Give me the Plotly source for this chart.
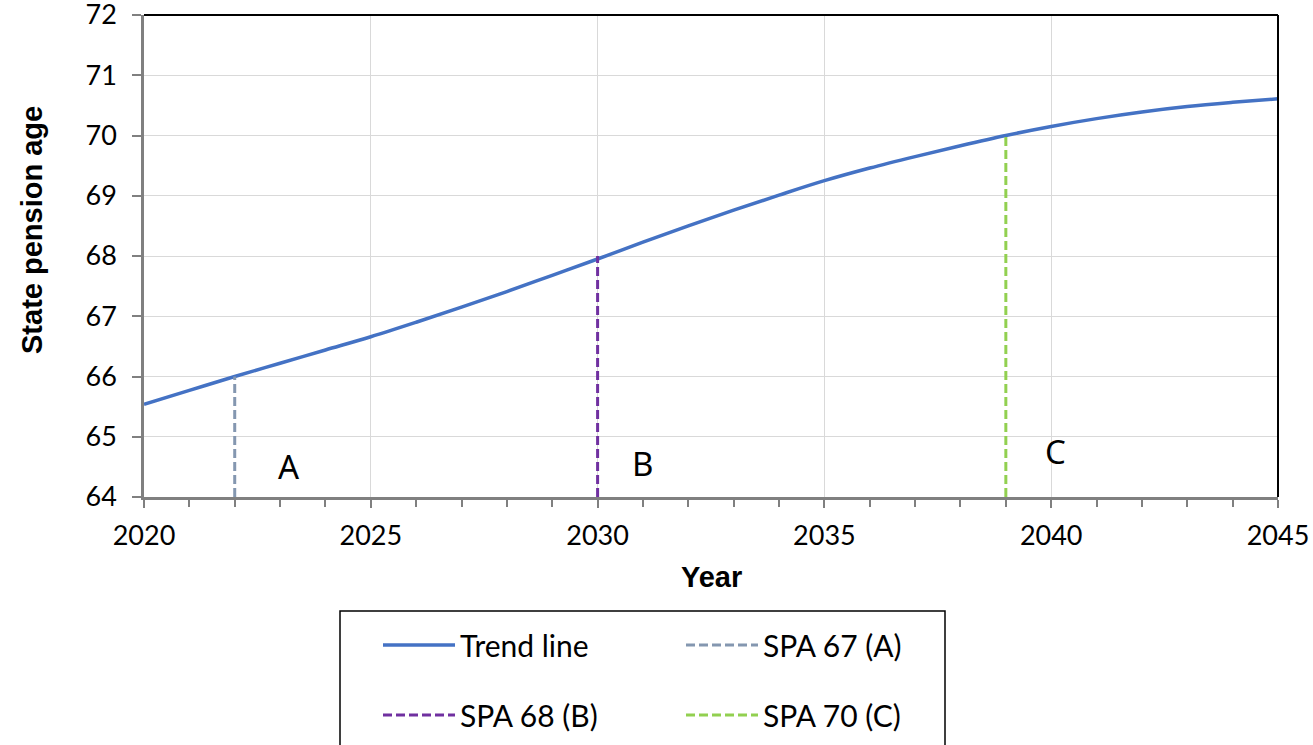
import plotly.graph_objects as go

years = list(range(2020, 2046))
trend = [65.54, 65.77, 66.00, 66.22, 66.44, 66.66, 66.90, 67.15, 67.41, 67.68,
         67.95, 68.23, 68.50, 68.76, 69.01, 69.25, 69.46, 69.65, 69.83, 70.00,
         70.15, 70.28, 70.39, 70.48, 70.55, 70.61]

spa_names = ["SPA 67 (A)", "SPA 68 (B)", "SPA 70 (C)"]
spa_years = [2022, 2030, 2039]
spa_ages = [66, 68, 70]
spa_colors = ["#8497b0", "#7030a0", "#92d050"]
spa_legend = ["legend2", "legend", "legend2"]

label_text = ["A", "B", "C"]
label_x = [2023.2, 2031.0, 2040.1]
label_y = [64.5, 64.55, 64.75]

y_min, y_max = 64, 72

fig = go.Figure()
fig.add_trace(go.Scatter(x=years, y=trend, mode="lines", name="Trend line",
                         line=dict(color="#4472c4", width=3.5, shape="spline"),
                         legend="legend", legendgroup="g1"))
for n, yr, ag, c, lg in zip(spa_names, spa_years, spa_ages, spa_colors, spa_legend):
    fig.add_trace(go.Scatter(x=[yr, yr], y=[y_min, ag], mode="lines", name=n,
                             line=dict(color=c, width=3, dash="9px,4px"),
                             legend=lg, legendgroup=n))

for t, x, y in zip(label_text, label_x, label_y):
    fig.add_annotation(x=x, y=y, text=t, showarrow=False,
                       font=dict(family="Noto Sans", size=33, color="black"))

W, H = 1313, 745
tick_font = dict(family="Lato", size=27, color="black")
leg_font = dict(family="Lato", size=30, color="black")
fig.update_layout(
    width=W, height=H,
    margin=dict(l=144, r=35, t=15, b=248, autoexpand=False),
    plot_bgcolor="white", paper_bgcolor="white",
    showlegend=True,
    xaxis=dict(range=[2020, 2045], tickvals=list(range(2020, 2046, 5)),
               showgrid=True, gridcolor="#d9d9d9", gridwidth=1,
               showline=True, linecolor="#808080", linewidth=2.5,
               ticks="outside", ticklen=8, tickcolor="#808080", tickwidth=1.5,
               minor=dict(dtick=1, ticks="outside", ticklen=7, tickcolor="#808080",
                          tickwidth=1.5, showgrid=False),
               tickfont=tick_font, ticklabelstandoff=5, zeroline=False,
               automargin=False, ticklabeloverflow="allow"),
    yaxis=dict(range=[y_min, y_max], tickvals=list(range(64, 73)),
               showgrid=True, gridcolor="#d9d9d9", gridwidth=1,
               showline=True, linecolor="#808080", linewidth=2.5,
               ticks="outside", ticklen=9, tickcolor="#808080", tickwidth=1.5,
               tickfont=tick_font, ticklabelstandoff=10, zeroline=False,
               automargin=False, ticklabeloverflow="allow"),
    legend=dict(xref="container", yref="container",
                x=378 / W, xanchor="left", y=1 - 619 / H, yanchor="top",
                orientation="v", bgcolor="rgba(0,0,0,0)", borderwidth=0,
                font=leg_font, tracegroupgap=28, itemwidth=72),
    legend2=dict(xref="container", yref="container",
                 x=681 / W, xanchor="left", y=1 - 619 / H, yanchor="top",
                 orientation="v", bgcolor="rgba(0,0,0,0)", borderwidth=0,
                 font=leg_font, tracegroupgap=28, itemwidth=72),
)

# Title texts
fig.add_annotation(xref="paper", yref="paper", x=0.5, y=(497 - 577) / 482, yanchor="middle",
                   text="<b>Year</b>", showarrow=False,
                   font=dict(family="Liberation Sans", size=29, color="black"))
fig.add_annotation(xref="paper", x=(32 - 144) / 1134, xanchor="center", yref="paper",
                   y=(497 - 230) / 482, yanchor="middle", textangle=-90,
                   text="<b>State pension age</b>", showarrow=False,
                   font=dict(family="Liberation Sans", size=29, color="black"))

# top / right plot border
fig.add_shape(type="line", xref="paper", yref="paper", x0=0, x1=1, y0=1, y1=1,
              line=dict(color="black", width=2))
fig.add_shape(type="line", xref="paper", yref="paper", x0=1, x1=1, y0=0, y1=1,
              line=dict(color="black", width=2))
# legend box
fig.add_shape(type="rect", xref="paper", yref="paper",
              x0=(340 - 144) / 1134, x1=(945 - 144) / 1134,
              y0=(497 - 760) / 482, y1=(497 - 611) / 482,
              line=dict(color="black", width=1.5))

fig.write_html("out.html")
